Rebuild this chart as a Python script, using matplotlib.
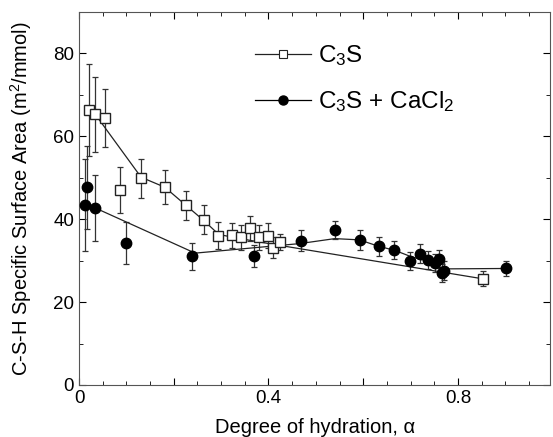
import numpy as np
import matplotlib
matplotlib.use("Agg")
import matplotlib.pyplot as plt
from matplotlib.ticker import MultipleLocator, FuncFormatter

# C3S (open squares)
c3s_x = [0.022, 0.034, 0.054, 0.087, 0.131, 0.181, 0.226, 0.264, 0.293, 0.323,
         0.342, 0.361, 0.380, 0.399, 0.410, 0.424, 0.852]
c3s_y = [66.3, 65.3, 64.4, 47.0, 49.8, 47.7, 43.3, 39.9, 36.0, 36.1,
         35.6, 37.8, 35.6, 36.0, 33.1, 34.5, 25.6]
c3s_err = [11.0, 9.0, 7.0, 5.5, 4.6, 4.1, 3.6, 3.4, 3.2, 3.0,
           3.0, 3.0, 3.0, 3.0, 2.5, 2.0, 1.8]
# smoothed line drawn through C3S data
c3s_fit_x = [0.034, 0.131, 0.181, 0.226, 0.264, 0.295, 0.34, 0.406, 0.853]
c3s_fit_y = [65.3, 50.1, 47.7, 43.3, 39.6, 36.3, 35.3, 34.0, 25.6]

# C3S + CaCl2 (filled circles)
ca_x = [0.016, 0.013, 0.034, 0.100, 0.238, 0.369, 0.468, 0.540, 0.593, 0.634,
        0.666, 0.698, 0.719, 0.737, 0.751, 0.760, 0.770, 0.767, 0.902]
ca_y = [47.7, 43.4, 42.7, 34.2, 31.0, 31.1, 34.8, 37.3, 35.0, 33.4,
        32.5, 29.9, 31.7, 30.2, 29.4, 30.3, 27.6, 27.0, 28.1]
ca_err = [10.0, 11.0, 8.0, 5.0, 3.3, 2.7, 2.5, 2.2, 2.4, 2.2,
          2.2, 2.2, 2.2, 2.2, 2.2, 2.2, 2.2, 2.2, 1.7]
ca_fit_x = [0.034, 0.245, 0.466, 0.54, 0.592, 0.634, 0.666, 0.70, 0.737, 0.769, 0.902]
ca_fit_y = [42.7, 31.8, 34.1, 35.3, 35.0, 33.4, 32.5, 31.0, 29.8, 28.0, 28.1]

plt.rcParams['font.family'] = ['Liberation Sans', 'DejaVu Sans']
plt.rcParams['mathtext.fontset'] = 'custom'
plt.rcParams['mathtext.rm'] = 'Liberation Sans'
plt.rcParams['mathtext.it'] = 'Liberation Sans:italic'

fig = plt.figure(figsize=(5.53, 4.37), dpi=100)
ax = fig.add_axes([0.143, 0.119, 0.852, 0.854])

ax.errorbar(c3s_x, c3s_y, yerr=c3s_err, fmt='none', ecolor='#333333',
            elinewidth=0.9, capsize=2, capthick=0.9, zorder=2)
ax.errorbar(ca_x, ca_y, yerr=ca_err, fmt='none', ecolor='#333333',
            elinewidth=0.9, capsize=2, capthick=0.9, zorder=2)
ax.plot(c3s_fit_x, c3s_fit_y, color='#222222', lw=0.9, zorder=3)
ax.plot(ca_fit_x, ca_fit_y, color='#222222', lw=0.9, zorder=3)
ax.plot(c3s_x, c3s_y, 's', ms=7, mfc='white', mec='#222222', mew=1.0, zorder=4)
ax.plot(ca_x, ca_y, 'o', ms=7.5, mfc='black', mec='black', zorder=4)

# legend proxies
ax.plot([], [], '-s', color='#222222', lw=0.9, ms=6, mfc='white', mew=0.8, label=r'C$_3$S')
ax.plot([], [], '-o', color='black', lw=0.9, ms=6.5, label=r'C$_3$S + CaCl$_2$')
ax.legend(loc='upper left', bbox_to_anchor=(0.374, 0.915), frameon=False,
          fontsize=17.5, handlelength=2.3, handletextpad=0.3, labelspacing=0.85,
          borderpad=0, borderaxespad=0)

ax.set_xlim(0, 0.995)
ax.set_ylim(0, 90)
ax.xaxis.set_major_locator(MultipleLocator(0.2))
ax.xaxis.set_minor_locator(MultipleLocator(0.05))
ax.xaxis.set_major_formatter(FuncFormatter(
    lambda v, p: ('0' if abs(v) < 1e-9 else f'{v:.1f}') if abs(v / 0.4 - round(v / 0.4)) < 1e-6 else ''))
ax.yaxis.set_major_locator(MultipleLocator(20))
ax.yaxis.set_minor_locator(MultipleLocator(10))
ax.tick_params(which='both', direction='in', top=True, right=True, labelsize=13.5)
ax.tick_params(which='major', length=5)
ax.tick_params(which='minor', length=3)
for s in ax.spines.values():
    s.set_color('#555555')

ax.set_xlabel('Degree of hydration, α', fontsize=14.5)
ax.set_ylabel(r'C-S-H Specific Surface Area (m$^2$/mmol)', fontsize=14.5)
ax.xaxis.set_label_coords(0.5, -0.088)
ax.yaxis.set_label_coords(-0.095, 0.5)

fig.savefig('out.png', dpi=100)
